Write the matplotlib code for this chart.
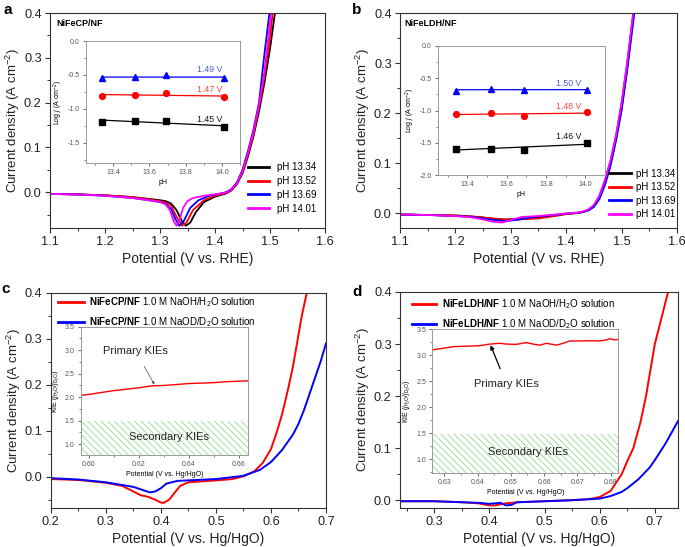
import numpy as np
import matplotlib
matplotlib.use("Agg")
import matplotlib.pyplot as plt
from matplotlib.ticker import MultipleLocator, FormatStrFormatter

plt.rcParams['font.family'] = ['Liberation Sans', 'DejaVu Sans']
plt.rcParams['mathtext.fontset'] = 'custom'
plt.rcParams['mathtext.rm'] = 'Liberation Sans'
plt.rcParams['mathtext.it'] = 'Liberation Sans:italic'
plt.rcParams['mathtext.bf'] = 'Liberation Sans:bold'
plt.rcParams['hatch.linewidth'] = 0.6

# ---------------- panel a: NiFeCP/NF LSV at different pH ----------------
a_black_x = [1.10, 1.15, 1.20, 1.25, 1.28, 1.30, 1.31, 1.32, 1.33, 1.34, 1.347, 1.355, 1.365, 1.38, 1.40, 1.42,
             1.43, 1.44, 1.45, 1.46, 1.47, 1.48, 1.49, 1.50, 1.509]
a_black_y = [-0.004, -0.005, -0.007, -0.011, -0.015, -0.018, -0.020, -0.025, -0.040, -0.065, -0.075, -0.068, -0.045,
             -0.022, -0.010, -0.003, 0.004, 0.018, 0.042, 0.080, 0.125, 0.18, 0.245, 0.32, 0.40]
a_red_x = [1.10, 1.15, 1.20, 1.25, 1.28, 1.30, 1.31, 1.32, 1.33, 1.34, 1.348, 1.36, 1.38, 1.40, 1.42, 1.43, 1.44,
           1.45, 1.46, 1.47, 1.48, 1.49, 1.50, 1.505]
a_red_y = [-0.004, -0.005, -0.007, -0.011, -0.016, -0.020, -0.023, -0.030, -0.055, -0.075, -0.068, -0.040, -0.018,
           -0.008, -0.002, 0.005, 0.020, 0.045, 0.085, 0.130, 0.19, 0.26, 0.345, 0.40]
a_blue_x = [1.10, 1.15, 1.20, 1.25, 1.28, 1.30, 1.31, 1.32, 1.328, 1.335, 1.343, 1.355, 1.37, 1.39, 1.41, 1.42,
            1.43, 1.44, 1.45, 1.46, 1.47, 1.48, 1.49, 1.499]
a_blue_y = [-0.004, -0.005, -0.008, -0.013, -0.018, -0.022, -0.026, -0.038, -0.060, -0.075, -0.065, -0.035, -0.018,
            -0.008, -0.003, 0.0, 0.007, 0.022, 0.050, 0.092, 0.14, 0.20, 0.31, 0.40]
a_mag_x = [1.10, 1.15, 1.20, 1.25, 1.28, 1.30, 1.31, 1.318, 1.325, 1.330, 1.336, 1.342, 1.35, 1.36, 1.38, 1.40,
           1.42, 1.43, 1.44, 1.45, 1.46, 1.47, 1.48, 1.49, 1.502]
a_mag_y = [-0.004, -0.005, -0.008, -0.013, -0.018, -0.022, -0.027, -0.040, -0.065, -0.075, -0.060, -0.035, -0.020,
           -0.013, -0.008, -0.005, -0.001, 0.006, 0.020, 0.047, 0.088, 0.135, 0.195, 0.27, 0.40]

ph = [13.34, 13.52, 13.69, 14.01]
a_logj_149 = [-0.55, -0.53, -0.50, -0.55]
a_logj_147 = [-0.81, -0.79, -0.77, -0.83]
a_logj_145 = [-1.19, -1.18, -1.18, -1.27]

# ---------------- panel b: NiFeLDH/NF ----------------
b_black_x = [1.10, 1.15, 1.20, 1.23, 1.25, 1.27, 1.29, 1.31, 1.33, 1.35, 1.38, 1.40, 1.42, 1.43, 1.44, 1.45,
             1.46, 1.47, 1.48, 1.49, 1.50, 1.51, 1.522]
b_black_y = [-0.003, -0.004, -0.005, -0.007, -0.009, -0.012, -0.013, -0.012, -0.011, -0.009, -0.005, -0.002, 0.0,
             0.002, 0.006, 0.014, 0.032, 0.062, 0.100, 0.15, 0.21, 0.29, 0.40]
b_red_x = [1.10, 1.15, 1.20, 1.23, 1.25, 1.27, 1.29, 1.31, 1.33, 1.35, 1.38, 1.40, 1.42, 1.43, 1.44, 1.45, 1.46,
           1.47, 1.48, 1.49, 1.50, 1.51, 1.521]
b_red_y = [-0.003, -0.004, -0.005, -0.007, -0.009, -0.011, -0.013, -0.013, -0.012, -0.011, -0.006, -0.002, 0.0,
           0.002, 0.006, 0.015, 0.034, 0.065, 0.105, 0.155, 0.22, 0.30, 0.40]
b_blue_x = [1.10, 1.15, 1.20, 1.23, 1.25, 1.27, 1.29, 1.31, 1.33, 1.35, 1.38, 1.40, 1.42, 1.43, 1.44, 1.45, 1.46,
            1.47, 1.48, 1.49, 1.50, 1.51, 1.523]
b_blue_y = [-0.003, -0.004, -0.006, -0.008, -0.011, -0.014, -0.016, -0.014, -0.010, -0.007, -0.004, -0.001, 0.0,
            0.002, 0.005, 0.012, 0.028, 0.056, 0.094, 0.145, 0.205, 0.285, 0.40]
b_mag_x = [1.10, 1.15, 1.20, 1.23, 1.25, 1.27, 1.285, 1.30, 1.32, 1.35, 1.38, 1.40, 1.42, 1.43, 1.44, 1.45, 1.46,
           1.47, 1.48, 1.49, 1.50, 1.51, 1.521]
b_mag_y = [-0.003, -0.004, -0.006, -0.009, -0.013, -0.018, -0.019, -0.014, -0.008, -0.006, -0.003, -0.001, 0.001,
           0.003, 0.007, 0.016, 0.035, 0.066, 0.105, 0.155, 0.22, 0.30, 0.40]

b_logj_150 = [-0.69, -0.66, -0.68, -0.68]
b_logj_148 = [-1.06, -1.04, -1.08, -1.03]
b_logj_146 = [-1.59, -1.59, -1.61, -1.50]

# ---------------- panel c: NiFeCP/NF, H2O vs D2O ----------------
c_red_x = [0.20, 0.25, 0.30, 0.33, 0.35, 0.363, 0.375, 0.39, 0.40, 0.405, 0.415, 0.425, 0.435, 0.45, 0.50, 0.53,
           0.55, 0.57, 0.585, 0.60, 0.61, 0.62, 0.631, 0.64, 0.648, 0.656, 0.665]
c_red_y = [-0.005, -0.007, -0.013, -0.020, -0.032, -0.040, -0.043, -0.050, -0.056, -0.057, -0.050, -0.035, -0.020,
           -0.012, -0.008, -0.005, 0.001, 0.012, 0.030, 0.060, 0.095, 0.135, 0.19, 0.24, 0.295, 0.35, 0.40]
c_blue_x = [0.20, 0.25, 0.30, 0.33, 0.35, 0.365, 0.38, 0.39, 0.40, 0.41, 0.43, 0.50, 0.55, 0.58, 0.60, 0.62, 0.64,
            0.65, 0.66, 0.67, 0.68, 0.69, 0.70]
c_blue_y = [-0.003, -0.006, -0.012, -0.018, -0.022, -0.028, -0.034, -0.032, -0.025, -0.015, -0.009, -0.005, 0.002,
            0.015, 0.032, 0.058, 0.092, 0.115, 0.145, 0.18, 0.215, 0.25, 0.29]

c_kie_x = [0.597, 0.600, 0.605, 0.610, 0.615, 0.620, 0.625, 0.630, 0.635, 0.640, 0.645, 0.650, 0.655, 0.660, 0.664]
c_kie_y = [2.04, 2.06, 2.10, 2.14, 2.17, 2.20, 2.24, 2.25, 2.27, 2.29, 2.30, 2.31, 2.33, 2.34, 2.35]

# ---------------- panel d: NiFeLDH/NF, H2O vs D2O ----------------
d_red_x = [0.24, 0.30, 0.35, 0.38, 0.40, 0.41, 0.43, 0.45, 0.50, 0.55, 0.58, 0.60, 0.62, 0.64, 0.65, 0.661,
           0.674, 0.684, 0.692, 0.70, 0.712, 0.724]
d_red_y = [-0.002, -0.002, -0.004, -0.006, -0.010, -0.010, -0.006, -0.004, -0.002, 0.0, 0.002, 0.006, 0.018,
           0.050, 0.075, 0.10, 0.15, 0.20, 0.25, 0.30, 0.35, 0.40]
d_blue_x = [0.24, 0.30, 0.38, 0.40, 0.42, 0.43, 0.44, 0.45, 0.50, 0.55, 0.60, 0.62, 0.64, 0.65, 0.67, 0.69, 0.70,
            0.72, 0.742]
d_blue_y = [-0.002, -0.002, -0.005, -0.007, -0.005, -0.010, -0.009, -0.004, -0.002, 0.0, 0.003, 0.008, 0.016,
            0.023, 0.040, 0.062, 0.077, 0.11, 0.152]

d_kie_x = [0.6264, 0.6297, 0.6327, 0.6367, 0.6407, 0.6437, 0.6467, 0.6487, 0.6517, 0.6547, 0.6567, 0.6587, 0.6607,
           0.6637, 0.6657, 0.6677, 0.6707, 0.6737, 0.6767, 0.6787, 0.6797, 0.6812, 0.6823]
d_kie_y = [3.10, 3.13, 3.16, 3.17, 3.18, 3.21, 3.225, 3.21, 3.205, 3.24, 3.21, 3.19, 3.225, 3.19, 3.225, 3.27,
           3.27, 3.275, 3.27, 3.29, 3.315, 3.29, 3.30]

ph_labels = ['pH 13.34', 'pH 13.52', 'pH 13.69', 'pH 14.01']
c_labels = [r'$\bf{NiFeCP/NF}$ 1.0 M NaOH/H$_2$O solution', r'$\bf{NiFeCP/NF}$ 1.0 M NaOD/D$_2$O solution']
d_labels = [r'$\bf{NiFeLDH/NF}$ 1.0 M NaOH/H$_2$O solution', r'$\bf{NiFeLDH/NF}$ 1.0 M NaOD/D$_2$O solution']

RED, BLUE, MAG = '#ff0000', '#0000ff', '#ff00ff'
SP = '#333333'
GR = '#999999'

fig = plt.figure(figsize=(6.85, 5.47), dpi=100)
W, H = 685, 547


def px_axes(l, t, r, b):
    return fig.add_axes([l / W, 1 - b / H, (r - l) / W, (b - t) / H])


def style_main(ax, xlabel):
    for s in ax.spines.values():
        s.set_color(SP)
        s.set_linewidth(0.8)
    ax.tick_params(which='both', direction='out', top=False, right=False, colors=SP, labelsize=9.2,
                   labelcolor='#222222', pad=2.5)
    ax.tick_params(which='major', length=3.5, width=0.8)
    ax.tick_params(which='minor', length=2, width=0.7)
    ax.yaxis.set_major_locator(MultipleLocator(0.1))
    ax.yaxis.set_minor_locator(MultipleLocator(0.05))
    ax.yaxis.set_major_formatter(FormatStrFormatter('%.1f'))
    ax.xaxis.set_major_formatter(FormatStrFormatter('%.1f'))
    ax.set_xlabel(xlabel, fontsize=10, labelpad=3, color='#222222')
    ax.set_ylabel('Current density (A cm$^{-2}$)', fontsize=9.5, labelpad=1.5, color='#222222')


def style_inset(ax):
    for s in ax.spines.values():
        s.set_color(GR)
        s.set_linewidth(0.7)
    ax.tick_params(which='both', direction='out', top=False, right=False, colors='#555555', labelsize=5,
                   pad=2)
    ax.tick_params(which='major', length=2.5, width=0.6)
    ax.tick_params(which='minor', length=1.5, width=0.5)


# ---------- a ----------
ax = px_axes(50, 13, 325, 228)
for xs, ys, c in [(a_black_x, a_black_y, 'k'), (a_red_x, a_red_y, RED), (a_blue_x, a_blue_y, BLUE),
                  (a_mag_x, a_mag_y, MAG)]:
    ax.plot(xs, ys, color=c, lw=1.3)
ax.set_xlim(1.1, 1.6)
ax.set_ylim(-0.08, 0.4)
ax.xaxis.set_major_locator(MultipleLocator(0.1))
ax.xaxis.set_minor_locator(MultipleLocator(0.05))
style_main(ax, 'Potential (V vs. RHE)')
ax.text(0.025, 0.95, 'NiFeCP/NF', transform=ax.transAxes, fontsize=6.5, weight='bold', va='center')
hs = [plt.Line2D([], [], color=c, lw=2) for c in ['k', RED, BLUE, MAG]]
ax.legend(hs, ph_labels, loc='upper left', bbox_to_anchor=(0.72, 0.305), frameon=False, fontsize=7,
          handlelength=2.2, handletextpad=0.8, labelspacing=0.38, borderpad=0, borderaxespad=0)

ins = px_axes(86, 41, 240, 163)
for ys, c, m, lab, ly in [(a_logj_149, BLUE, '^', '1.49 V', -0.42), (a_logj_147, RED, 'o', '1.47 V', -0.72),
                          (a_logj_145, 'k', 's', '1.45 V', -1.16)]:
    p = np.polyfit(ph, ys, 1)
    ins.plot([ph[0], ph[-1]], np.polyval(p, [ph[0], ph[-1]]), color=c, lw=0.9)
    ins.plot(ph, ys, ls='none', marker=m, color=c, ms=4.2)
    tc = {'k': '#111111', RED: '#ff4444', BLUE: '#4a5fd0'}[c]
    ins.text(14.0, ly, lab, color=tc, fontsize=6.3, ha='right', va='center')
ins.set_xlim(13.25, 14.1)
ins.set_ylim(-1.8, 0.0)
ins.xaxis.set_major_locator(MultipleLocator(0.2))
ins.xaxis.set_minor_locator(MultipleLocator(0.1))
ins.yaxis.set_major_locator(MultipleLocator(0.5))
ins.yaxis.set_minor_locator(MultipleLocator(0.25))
ins.xaxis.set_major_formatter(FormatStrFormatter('%.1f'))
ins.yaxis.set_major_formatter(FormatStrFormatter('%.1f'))
style_inset(ins)
ins.set_xlabel('pH', fontsize=5, labelpad=2)
ins.set_ylabel(r'Log $j$ (A cm$^{-2}$)', fontsize=5, labelpad=2)

# ---------- b ----------
ax = px_axes(400, 13, 677, 228)
for xs, ys, c in [(b_black_x, b_black_y, 'k'), (b_red_x, b_red_y, RED), (b_blue_x, b_blue_y, BLUE),
                  (b_mag_x, b_mag_y, MAG)]:
    ax.plot(xs, ys, color=c, lw=1.3)
ax.set_xlim(1.1, 1.6)
ax.set_ylim(-0.03, 0.4)
ax.xaxis.set_major_locator(MultipleLocator(0.1))
ax.xaxis.set_minor_locator(MultipleLocator(0.05))
style_main(ax, 'Potential (V vs. RHE)')
ax.text(0.015, 0.95, 'NiFeLDH/NF', transform=ax.transAxes, fontsize=6.5, weight='bold', va='center')
hs = [plt.Line2D([], [], color=c, lw=2) for c in ['k', RED, BLUE, MAG]]
ax.legend(hs, ph_labels, loc='upper left', bbox_to_anchor=(0.755, 0.275), frameon=False, fontsize=7,
          handlelength=2.2, handletextpad=0.6, labelspacing=0.36, borderpad=0, borderaxespad=0)

ins = px_axes(438, 46, 605, 175)
for ys, c, m, lab, ly in [(b_logj_150, BLUE, '^', '1.50 V', -0.58), (b_logj_148, RED, 'o', '1.48 V', -0.94),
                          (b_logj_146, 'k', 's', '1.46 V', -1.41)]:
    p = np.polyfit(ph, ys, 1)
    ins.plot([ph[0], ph[-1]], np.polyval(p, [ph[0], ph[-1]]), color=c, lw=0.9)
    ins.plot(ph, ys, ls='none', marker=m, color=c, ms=4.2)
    tc = {'k': '#111111', RED: '#ff4444', BLUE: '#4a5fd0'}[c]
    ins.text(13.98, ly, lab, color=tc, fontsize=6.3, ha='right', va='center')
ins.set_xlim(13.25, 14.1)
ins.set_ylim(-2.0, 0.0)
ins.xaxis.set_major_locator(MultipleLocator(0.2))
ins.xaxis.set_minor_locator(MultipleLocator(0.1))
ins.yaxis.set_major_locator(MultipleLocator(0.5))
ins.yaxis.set_minor_locator(MultipleLocator(0.25))
ins.xaxis.set_major_formatter(FormatStrFormatter('%.1f'))
ins.yaxis.set_major_formatter(FormatStrFormatter('%.1f'))
style_inset(ins)
ins.set_xlabel('pH', fontsize=5, labelpad=2)
ins.set_ylabel(r'Log $j$ (A cm$^{-2}$)', fontsize=5, labelpad=2)


# ---------- c ----------
def kie_inset(ax_ins, kx, ky, xlim, ylim, hatch_top, xmaj, xmin, fmt):
    ax_ins.fill_between(xlim, ylim[0], hatch_top, facecolor='none', edgecolor='#8fdc8f', hatch='\\\\\\\\\\',
                        lw=0)
    ax_ins.plot(kx, ky, color=RED, lw=1.0)
    ax_ins.set_xlim(*xlim)
    ax_ins.set_ylim(*ylim)
    ax_ins.xaxis.set_major_locator(MultipleLocator(xmaj))
    ax_ins.xaxis.set_minor_locator(MultipleLocator(xmin))
    ax_ins.yaxis.set_major_locator(MultipleLocator(0.5))
    ax_ins.yaxis.set_minor_locator(MultipleLocator(0.25))
    ax_ins.xaxis.set_major_formatter(FormatStrFormatter(fmt))
    ax_ins.yaxis.set_major_formatter(FormatStrFormatter('%.1f'))
    style_inset(ax_ins)
    ax_ins.set_xlabel('Potential (V vs. Hg/HgO)', fontsize=5, labelpad=2)
    ax_ins.set_ylabel(r'KIE ($j_{\mathrm{H_2O}}/j_{\mathrm{D_2O}}$)', fontsize=5, labelpad=2)


ax = px_axes(50.7, 293, 326, 508)
ax.plot(c_red_x, c_red_y, color=RED, lw=1.4)
ax.plot(c_blue_x, c_blue_y, color=BLUE, lw=1.4)
ax.set_xlim(0.2, 0.7)
ax.set_ylim(-0.068, 0.4)
ax.xaxis.set_major_locator(MultipleLocator(0.1))
ax.xaxis.set_minor_locator(MultipleLocator(0.05))
style_main(ax, 'Potential (V vs. Hg/HgO)')
hs = [plt.Line2D([], [], color=c, lw=2) for c in [RED, BLUE]]
ax.legend(hs, c_labels, loc='upper left', bbox_to_anchor=(0.026, 0.99), frameon=False, fontsize=7,
          handlelength=2.7, handletextpad=0.55, labelspacing=0.62, borderpad=0, borderaxespad=0)

ins = px_axes(80.7, 326.7, 248.3, 455)
kie_inset(ins, c_kie_x, c_kie_y, (0.5967, 0.6638), (0.77, 3.5), 1.5, 0.02, 0.01, '%.2f')
ins.text(0.632, 1.155, 'Secondary KIEs', fontsize=8, ha='center', va='center', color='#222222')
ins.annotate('Primary KIEs', xy=(0.6262, 2.27), xytext=(0.6187, 2.98), fontsize=8, ha='center',
             va='center', color='#222222',
             arrowprops=dict(arrowstyle='-|>', color='#555555', lw=0.5, mutation_scale=4,
                             shrinkA=6, shrinkB=0))

# ---------- d ----------
ax = px_axes(400, 292, 678, 508)
ax.plot(d_red_x, d_red_y, color=RED, lw=1.4)
ax.plot(d_blue_x, d_blue_y, color=BLUE, lw=1.4)
ax.set_xlim(0.238, 0.742)
ax.set_ylim(-0.015, 0.4)
ax.xaxis.set_major_locator(MultipleLocator(0.1))
ax.xaxis.set_minor_locator(MultipleLocator(0.05))
style_main(ax, 'Potential (V vs. Hg/HgO)')
hs = [plt.Line2D([], [], color=c, lw=2) for c in [RED, BLUE]]
ax.legend(hs, d_labels, loc='upper left', bbox_to_anchor=(0.042, 0.976), frameon=False, fontsize=7,
          handlelength=2.5, handletextpad=0.6, labelspacing=0.62, borderpad=0, borderaxespad=0)

ins = px_axes(432.3, 329, 618.3, 472.7)
kie_inset(ins, d_kie_x, d_kie_y, (0.6264, 0.6823), (0.74, 3.5), 1.48, 0.01, 0.005, '%.2f')
ins.text(0.6552, 1.13, 'Secondary KIEs', fontsize=8, ha='center', va='center', color='#222222')
ins.annotate('Primary KIEs', xy=(0.6439, 3.19), xytext=(0.6487, 2.44), fontsize=8, ha='center',
             va='center', color='#222222',
             arrowprops=dict(arrowstyle='-|>', color='k', lw=0.9, mutation_scale=6,
                             shrinkA=6, shrinkB=0))

for lab, x, y in [('a', 3, 3), ('b', 352, 3), ('c', 1, 282), ('d', 352, 285)]:
    fig.text(x / W, 1 - y / H, lab, fontsize=11, weight='bold', va='top', ha='left')

fig.savefig('out.png', dpi=100)
